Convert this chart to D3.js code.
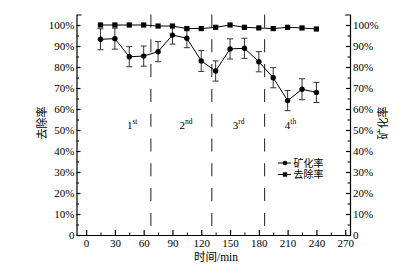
<!DOCTYPE html>
<html>
<head>
<meta charset="utf-8">
<script src="https://cdn.jsdelivr.net/npm/d3@7"></script>
<style>
  body { margin: 0; background: #fff; }
  svg text { fill: #000; }
  .serif { font-family: "Liberation Serif", "DejaVu Serif", serif; }
  .cjk { font-family: "Noto Sans CJK SC", sans-serif; }
</style>
</head>
<body>
<div id="chart"></div>
<script>
// 数据
const times = [15, 30, 45, 60, 75, 90, 105, 120, 135, 150, 165, 180, 195, 210, 225, 240];
const removal = [100, 100, 100, 100, 99.5, 99.5, 98.3, 98.3, 98.9, 100, 98.9, 98.6, 98.3, 98.9, 98.6, 98.1];
const mineral = [93.2, 93.5, 84.9, 85.2, 87.3, 95.2, 93.7, 82.9, 78.1, 88.6, 88.9, 82.5, 74.9, 64.0, 69.4, 67.9];
const mineralErr = [5, 5, 4.8, 4.8, 4.8, 4.3, 4.5, 5, 4.8, 4.8, 4.8, 4.8, 4.8, 4.8, 5, 4.8];
const stageLines = [67.5, 131, 186];
const stageLabels = [["1", "st"], ["2", "nd"], ["3", "rd"], ["4", "th"]];
const stageLabelX = [48, 104, 159, 213];
const xTicks = [0, 30, 60, 90, 120, 150, 180, 210, 240, 270];
const yTicks = [0, 10, 20, 30, 40, 50, 60, 70, 80, 90, 100];

const width = 417, height = 275;
const svg = d3.select('#chart').append('svg')
  .attr('width', width)
  .attr('height', height);

const x = d3.scaleLinear().domain([-10, 275]).range([76.5, 350]);
const y = d3.scaleLinear().domain([0, 105]).range([235, 14.5]);

const fmt = d => d === 0 ? '0' : d + '%';

// 次刻度
svg.append('g')
  .attr('transform', `translate(0,${y(0)})`)
  .call(d3.axisBottom(x).tickValues(d3.range(15, 271, 30)).tickSize(-2.5).tickFormat(''))
  .call(g => g.select('.domain').remove());
svg.append('g')
  .attr('transform', `translate(${x(-10)},0)`)
  .call(d3.axisLeft(y).tickValues(d3.range(5, 101, 10)).tickSize(-2.5).tickFormat(''))
  .call(g => g.select('.domain').remove());
svg.append('g')
  .attr('transform', `translate(${x(275)},0)`)
  .call(d3.axisRight(y).tickValues(d3.range(5, 101, 10)).tickSize(-2.5).tickFormat(''))
  .call(g => g.select('.domain').remove());

// 主坐标轴
const xAxis = svg.append('g')
  .attr('transform', `translate(0,${y(0)})`)
  .call(d3.axisBottom(x).tickValues(xTicks).tickSizeInner(-5).tickSizeOuter(0).tickPadding(4.5));
const yLeft = svg.append('g')
  .attr('transform', `translate(${x(-10)},0)`)
  .call(d3.axisLeft(y).tickValues(yTicks).tickFormat(fmt).tickSizeInner(-4).tickSizeOuter(-5).tickPadding(2));
const yRight = svg.append('g')
  .attr('transform', `translate(${x(275)},0)`)
  .call(d3.axisRight(y).tickValues(yTicks).tickFormat(fmt).tickSizeInner(-4).tickSizeOuter(-5).tickPadding(3));

[xAxis, yLeft, yRight].forEach(g => {
  g.selectAll('text').attr('class', 'serif').style('font-size', '11px').attr('fill', '#000');
  g.selectAll('line, path').attr('stroke', '#000').attr('stroke-width', 1.2);
  g.attr('font-family', null).attr('font-size', null);
});

// 阶段分隔虚线
svg.selectAll('.stage-line')
  .data(stageLines)
  .enter()
  .append('line')
  .attr('x1', d => x(d)).attr('x2', d => x(d))
  .attr('y1', y(105)).attr('y2', y(0))
  .attr('stroke', '#333')
  .attr('stroke-width', 1.1)
  .attr('stroke-dasharray', '13,11.8');

// 阶段标签
const lbl = svg.selectAll('.stage')
  .data(stageLabels)
  .enter()
  .append('text')
  .attr('class', 'serif')
  .attr('x', (d, i) => x(stageLabelX[i]))
  .attr('y', 128.5)
  .attr('text-anchor', 'middle')
  .style('fill', '#000')
  .style('font-size', '11px');
lbl.append('tspan').text(d => d[0]);
lbl.append('tspan').attr('dy', -5).style('font-size', '7.5px').text(d => d[1]);

// 去除率
const removalData = times.map((t, i) => ({ t, v: removal[i] }));
const mineralData = times.map((t, i) => ({ t, v: mineral[i], e: mineralErr[i] }));
const line = d3.line().x(d => x(d.t)).y(d => y(d.v));

// 误差棒
const err = svg.selectAll('.err')
  .data(mineralData)
  .enter()
  .append('g')
  .attr('stroke', '#333')
  .attr('stroke-width', 1);
err.append('line')
  .attr('x1', d => x(d.t)).attr('x2', d => x(d.t))
  .attr('y1', d => y(d.v - d.e)).attr('y2', d => y(d.v + d.e));
err.append('line')
  .attr('x1', d => x(d.t) - 3).attr('x2', d => x(d.t) + 3)
  .attr('y1', d => y(d.v - d.e)).attr('y2', d => y(d.v - d.e));
err.append('line')
  .attr('x1', d => x(d.t) - 3).attr('x2', d => x(d.t) + 3)
  .attr('y1', d => y(d.v + d.e)).attr('y2', d => y(d.v + d.e));

svg.append('path')
  .datum(mineralData)
  .attr('d', line)
  .attr('fill', 'none')
  .attr('stroke', '#000')
  .attr('stroke-width', 1);
svg.append('path')
  .datum(removalData)
  .attr('d', line)
  .attr('fill', 'none')
  .attr('stroke', '#000')
  .attr('stroke-width', 1);

svg.selectAll('.dot')
  .data(mineralData)
  .enter()
  .append('circle')
  .attr('cx', d => x(d.t))
  .attr('cy', d => y(d.v))
  .attr('r', 2.7)
  .attr('fill', '#000');
svg.selectAll('.sq')
  .data(removalData)
  .enter()
  .append('rect')
  .attr('x', d => x(d.t) - 2.6)
  .attr('y', d => y(d.v) - 2.6)
  .attr('width', 5.2)
  .attr('height', 5.2)
  .attr('fill', '#000');

// 轴标题
svg.append('text')
  .attr('x', 216).attr('y', 261)
  .attr('text-anchor', 'middle')
  .style('font-size', '11.5px')
  .call(t => {
    t.append('tspan').attr('class', 'cjk').text('时间');
    t.append('tspan').attr('class', 'serif').text('/min');
  });
svg.append('text')
  .attr('class', 'cjk')
  .attr('transform', 'translate(46,123) rotate(-90)')
  .attr('text-anchor', 'middle')
  .style('font-size', '11px')
  .text('去除率');
svg.append('text')
  .attr('class', 'cjk')
  .attr('transform', 'translate(387,123) rotate(-90)')
  .attr('text-anchor', 'middle')
  .style('font-size', '11px')
  .text('矿化率');

// 图例
const legend = [
  { name: '矿化率', shape: 'circle', yy: 163 },
  { name: '去除率', shape: 'square', yy: 174.5 }
];
legend.forEach(l => {
  const g = svg.append('g');
  g.append('line')
    .attr('x1', 278).attr('x2', 291)
    .attr('y1', l.yy).attr('y2', l.yy)
    .attr('stroke', '#000');
  if (l.shape === 'circle') {
    g.append('circle').attr('cx', 285).attr('cy', l.yy).attr('r', 2.3).attr('fill', '#000');
  } else {
    g.append('rect').attr('x', 282.8).attr('y', l.yy - 2.2).attr('width', 4.4).attr('height', 4.4).attr('fill', '#000');
  }
  g.append('text')
    .attr('class', 'cjk')
    .attr('x', 293.5).attr('y', l.yy)
    .attr('dy', '0.36em')
    .style('font-size', '10px')
    .text(l.name);
});
</script>
</body>
</html>
